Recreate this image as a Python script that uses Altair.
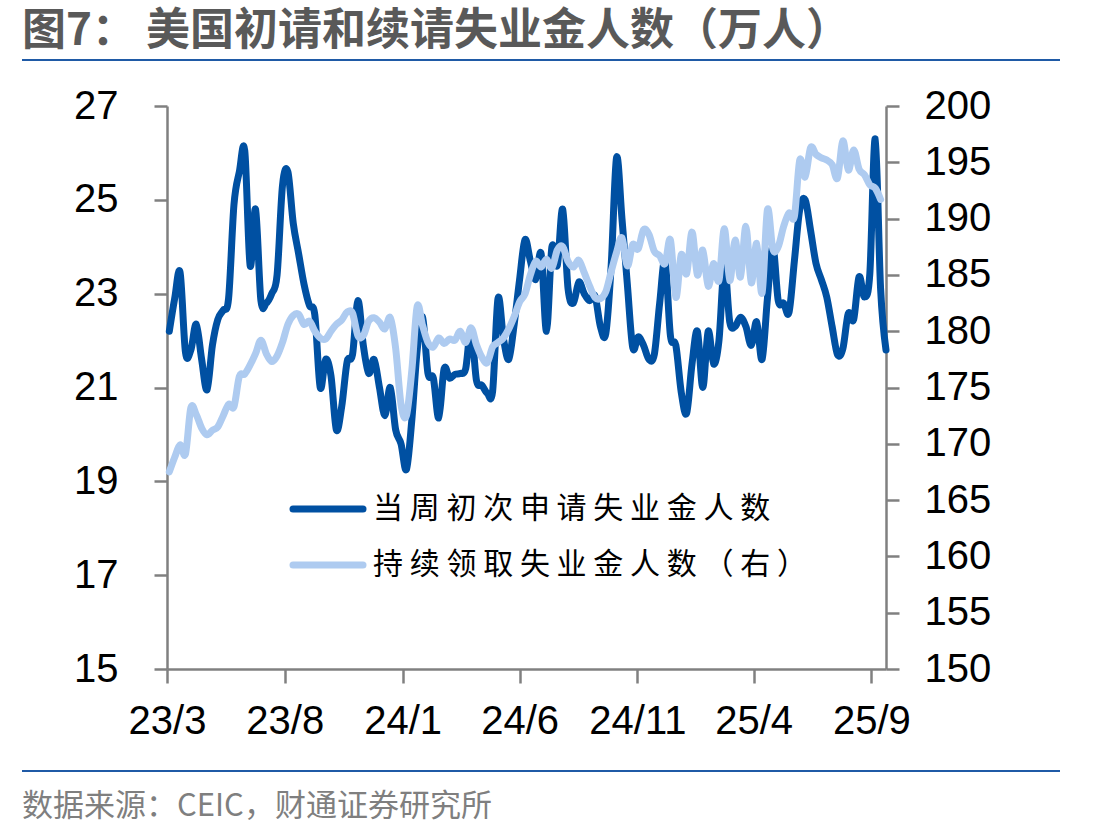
import altair as alt
import pandas as pd

# Weekly initial jobless claims (万人), weeks ending 2023-03-04 .. 2025-09-20
initial_claims = [
    22.2, 22.9, 23.45, 21.75, 21.8, 22.35, 21.6, 20.95, 21.9, 22.45,
    22.65, 22.9, 24.9, 25.6, 26.05, 23.6, 24.8, 22.85, 22.8, 23.0,
    23.4, 25.3, 25.6, 24.5, 23.85, 23.2, 22.75, 22.55, 21.0, 21.6,
    21.25, 20.1, 20.6, 21.55, 21.7, 22.85, 21.9, 21.3, 21.6, 21.0,
    20.4, 21.0, 20.1, 19.8, 19.25, 20.3, 21.8, 22.5, 21.3, 21.2,
    20.35, 21.4, 21.2, 21.28, 21.3, 21.4, 22.25, 21.15, 21.05, 20.88,
    20.92, 22.9, 22.05, 21.6, 22.35, 23.3, 24.15, 23.7, 23.3, 23.85,
    22.2, 24.0, 23.6, 24.8, 23.1, 22.8, 23.25, 23.0, 22.85, 22.95,
    22.3, 22.15, 23.6, 25.9, 24.6, 23.2, 21.85, 22.08, 21.9, 21.6,
    21.7, 22.8, 23.7, 22.1, 21.9, 20.9, 20.45, 21.5, 22.2, 21.0,
    22.2, 21.5, 22.0, 23.6, 22.4, 22.3, 22.5, 22.3, 21.9, 22.4,
    21.6, 22.9, 24.0, 22.85, 22.8, 22.6, 23.7, 24.8, 25.0, 24.35,
    23.65, 23.3, 22.93, 22.3, 21.7, 21.83, 22.58, 22.45, 23.36, 22.93,
    23.43, 26.3, 23.1, 21.8,
]

# Continuing claims (万人), weeks ending 2023-03-04 .. 2025-09-13
continuing_claims = [
    167.5, 168.8, 169.9, 169.1, 173.2, 172.6, 171.4, 170.8, 171.2, 171.5,
    172.5, 173.5, 173.3, 176.0, 176.2, 177.0, 178.0, 179.2, 178.0, 177.3,
    177.8, 179.0, 180.6, 181.4, 181.5, 180.6, 180.9, 180.0, 179.4, 179.3,
    180.0, 180.6, 181.0, 181.7, 181.6, 179.6, 179.6, 180.9, 181.2, 180.8,
    180.2, 181.2, 178.5, 173.5, 172.5, 176.5, 182.2, 180.5, 179.0, 178.6,
    179.4, 178.9, 179.3, 179.2, 180.0, 179.0, 180.3, 178.8, 177.7, 177.2,
    178.6, 179.0, 179.4, 180.2, 181.3, 182.6, 183.3, 185.0, 186.2, 185.7,
    186.4, 185.6, 187.2, 187.5, 186.2, 185.7, 186.3, 185.2, 184.0, 183.0,
    182.9, 183.5, 185.3, 187.0, 188.3, 185.8, 187.7, 187.3, 189.0, 188.6,
    187.1, 186.7, 186.0, 188.1, 183.0, 186.8, 185.1, 188.8, 185.0, 187.2,
    184.0, 186.0, 184.5, 189.1, 184.5, 188.1, 184.8, 189.3, 184.3, 187.8,
    183.4, 190.8, 187.3, 187.5, 189.3, 190.5, 190.2, 195.2, 193.7, 196.3,
    195.7, 195.4, 195.2, 194.8, 193.6, 196.9, 194.3, 196.1, 194.4, 193.9,
    193.0, 192.7, 191.7,
]

first_week = "2023-03-04"
series_names = ["当周初次申请失业金人数", "持续领取失业金人数（右）"]
series_colors = ["#0050A2", "#AECBF0"]
left_ticks = [15, 17, 19, 21, 23, 25, 27]
right_ticks = [150, 155, 160, 165, 170, 175, 180, 185, 190, 195, 200]
x_tick_months = [(2023, 3), (2023, 8), (2024, 1), (2024, 6), (2024, 11), (2025, 4), (2025, 9)]

title_text = "图7： 美国初请和续请失业金人数（万人）"
source_text = "数据来源：CEIC，财通证券研究所"

initial_df = pd.DataFrame({
    "date": pd.date_range(first_week, periods=len(initial_claims), freq="7D").strftime("%Y-%m-%d"),
    "value": initial_claims,
})
continuing_df = pd.DataFrame({
    "date": pd.date_range(first_week, periods=len(continuing_claims), freq="7D").strftime("%Y-%m-%d"),
    "value": continuing_claims,
})

AXIS_GRAY = "#808080"
NUM_FONT = "Liberation Sans"
CJK_FONT = "Noto Sans CJK SC"

x_axis = alt.Axis(
    values=[alt.DateTime(year=y, month=m, date=1) for y, m in x_tick_months],
    format="%y/%-m", title=None, grid=False,
    domainColor=AXIS_GRAY, domainWidth=2.5, tickColor=AXIS_GRAY, tickWidth=2.5,
    tickSize=14, labelFont=NUM_FONT, labelFontSize=40, labelColor="#000000",
    labelPadding=18, labelFlush=False, labelOverlap=False,
)
x_scale = alt.Scale(domain=[alt.DateTime(year=2023, month=3, date=1),
                            alt.DateTime(year=2025, month=9, date=20)])

initial_line = alt.Chart(initial_df).mark_line(
    color=series_colors[0], strokeWidth=7, interpolate="cardinal",
    strokeCap="round", strokeJoin="round",
).encode(
    x=alt.X("date:T", scale=x_scale, axis=x_axis),
    y=alt.Y("value:Q", scale=alt.Scale(domain=[15, 27], nice=False, zero=False),
            axis=alt.Axis(values=left_ticks, orient="left", title=None, grid=False,
                          domainColor=AXIS_GRAY, domainWidth=2.5, tickColor=AXIS_GRAY,
                          tickWidth=2.5, tickSize=13, labelFont=NUM_FONT, labelFontSize=40,
                          labelColor="#000000", labelPadding=36, labelFlush=False)),
)

continuing_line = alt.Chart(continuing_df).mark_line(
    color=series_colors[1], strokeWidth=7, interpolate="cardinal",
    strokeCap="round", strokeJoin="round",
).encode(
    x=alt.X("date:T", scale=x_scale, axis=x_axis),
    y=alt.Y("value:Q", scale=alt.Scale(domain=[150, 200], nice=False, zero=False),
            axis=alt.Axis(values=right_ticks, orient="right", title=None, grid=False,
                          domainColor=AXIS_GRAY, domainWidth=2.5, tickColor=AXIS_GRAY,
                          tickWidth=2.5, tickSize=13, labelFont=NUM_FONT, labelFontSize=40,
                          labelColor="#000000", labelPadding=25, labelFlush=False)),
)

one_row = alt.Data(values=[{"k": 0}])

# legend drawn inside the plot area
legend_layers = []
for k, (name, color) in enumerate(zip(series_names, series_colors)):
    yy = 403 + 56 * k
    legend_layers.append(
        alt.Chart(one_row).mark_rule(color=color, strokeWidth=7, strokeCap="round").encode(
            x=alt.value(126), x2=alt.value(196), y=alt.value(yy))
    )
    legend_layers.append(
        alt.Chart(one_row).mark_text(
            text=" ".join(name), font=CJK_FONT, fontSize=30, color="#000000",
            align="left", baseline="middle",
        ).encode(x=alt.value(206), y=alt.value(yy))
    )

title_mark = alt.Chart(one_row).mark_text(
    text=title_text, font=CJK_FONT, fontSize=44, fontWeight="bold", color="#595959",
    align="left", baseline="middle",
).encode(x=alt.value(-145), y=alt.value(-74))

top_rule = alt.Chart(one_row).mark_rule(color="#1F5AA6", strokeWidth=2).encode(
    x=alt.value(-145), x2=alt.value(893), y=alt.value(-46))
bottom_rule = alt.Chart(one_row).mark_rule(color="#1F5AA6", strokeWidth=2).encode(
    x=alt.value(-145), x2=alt.value(893), y=alt.value(665))

source_mark = alt.Chart(one_row).mark_text(
    text=source_text, font=CJK_FONT, fontSize=31, color="#7F7F7F",
    align="left", baseline="middle",
).encode(x=alt.value(-145), y=alt.value(701))

chart = alt.layer(
    initial_line, continuing_line, *legend_layers,
    title_mark, top_rule, bottom_rule, source_mark,
).resolve_scale(y="independent").properties(
    width=719, height=563,
    padding={"left": 167, "top": 106, "right": 223, "bottom": 170},
    autosize=alt.AutoSizeParams(type="none"),
    background="#FFFFFF",
).configure_view(stroke=None)

chart.save("out.html", embed_options={"renderer": "svg", "actions": False})
